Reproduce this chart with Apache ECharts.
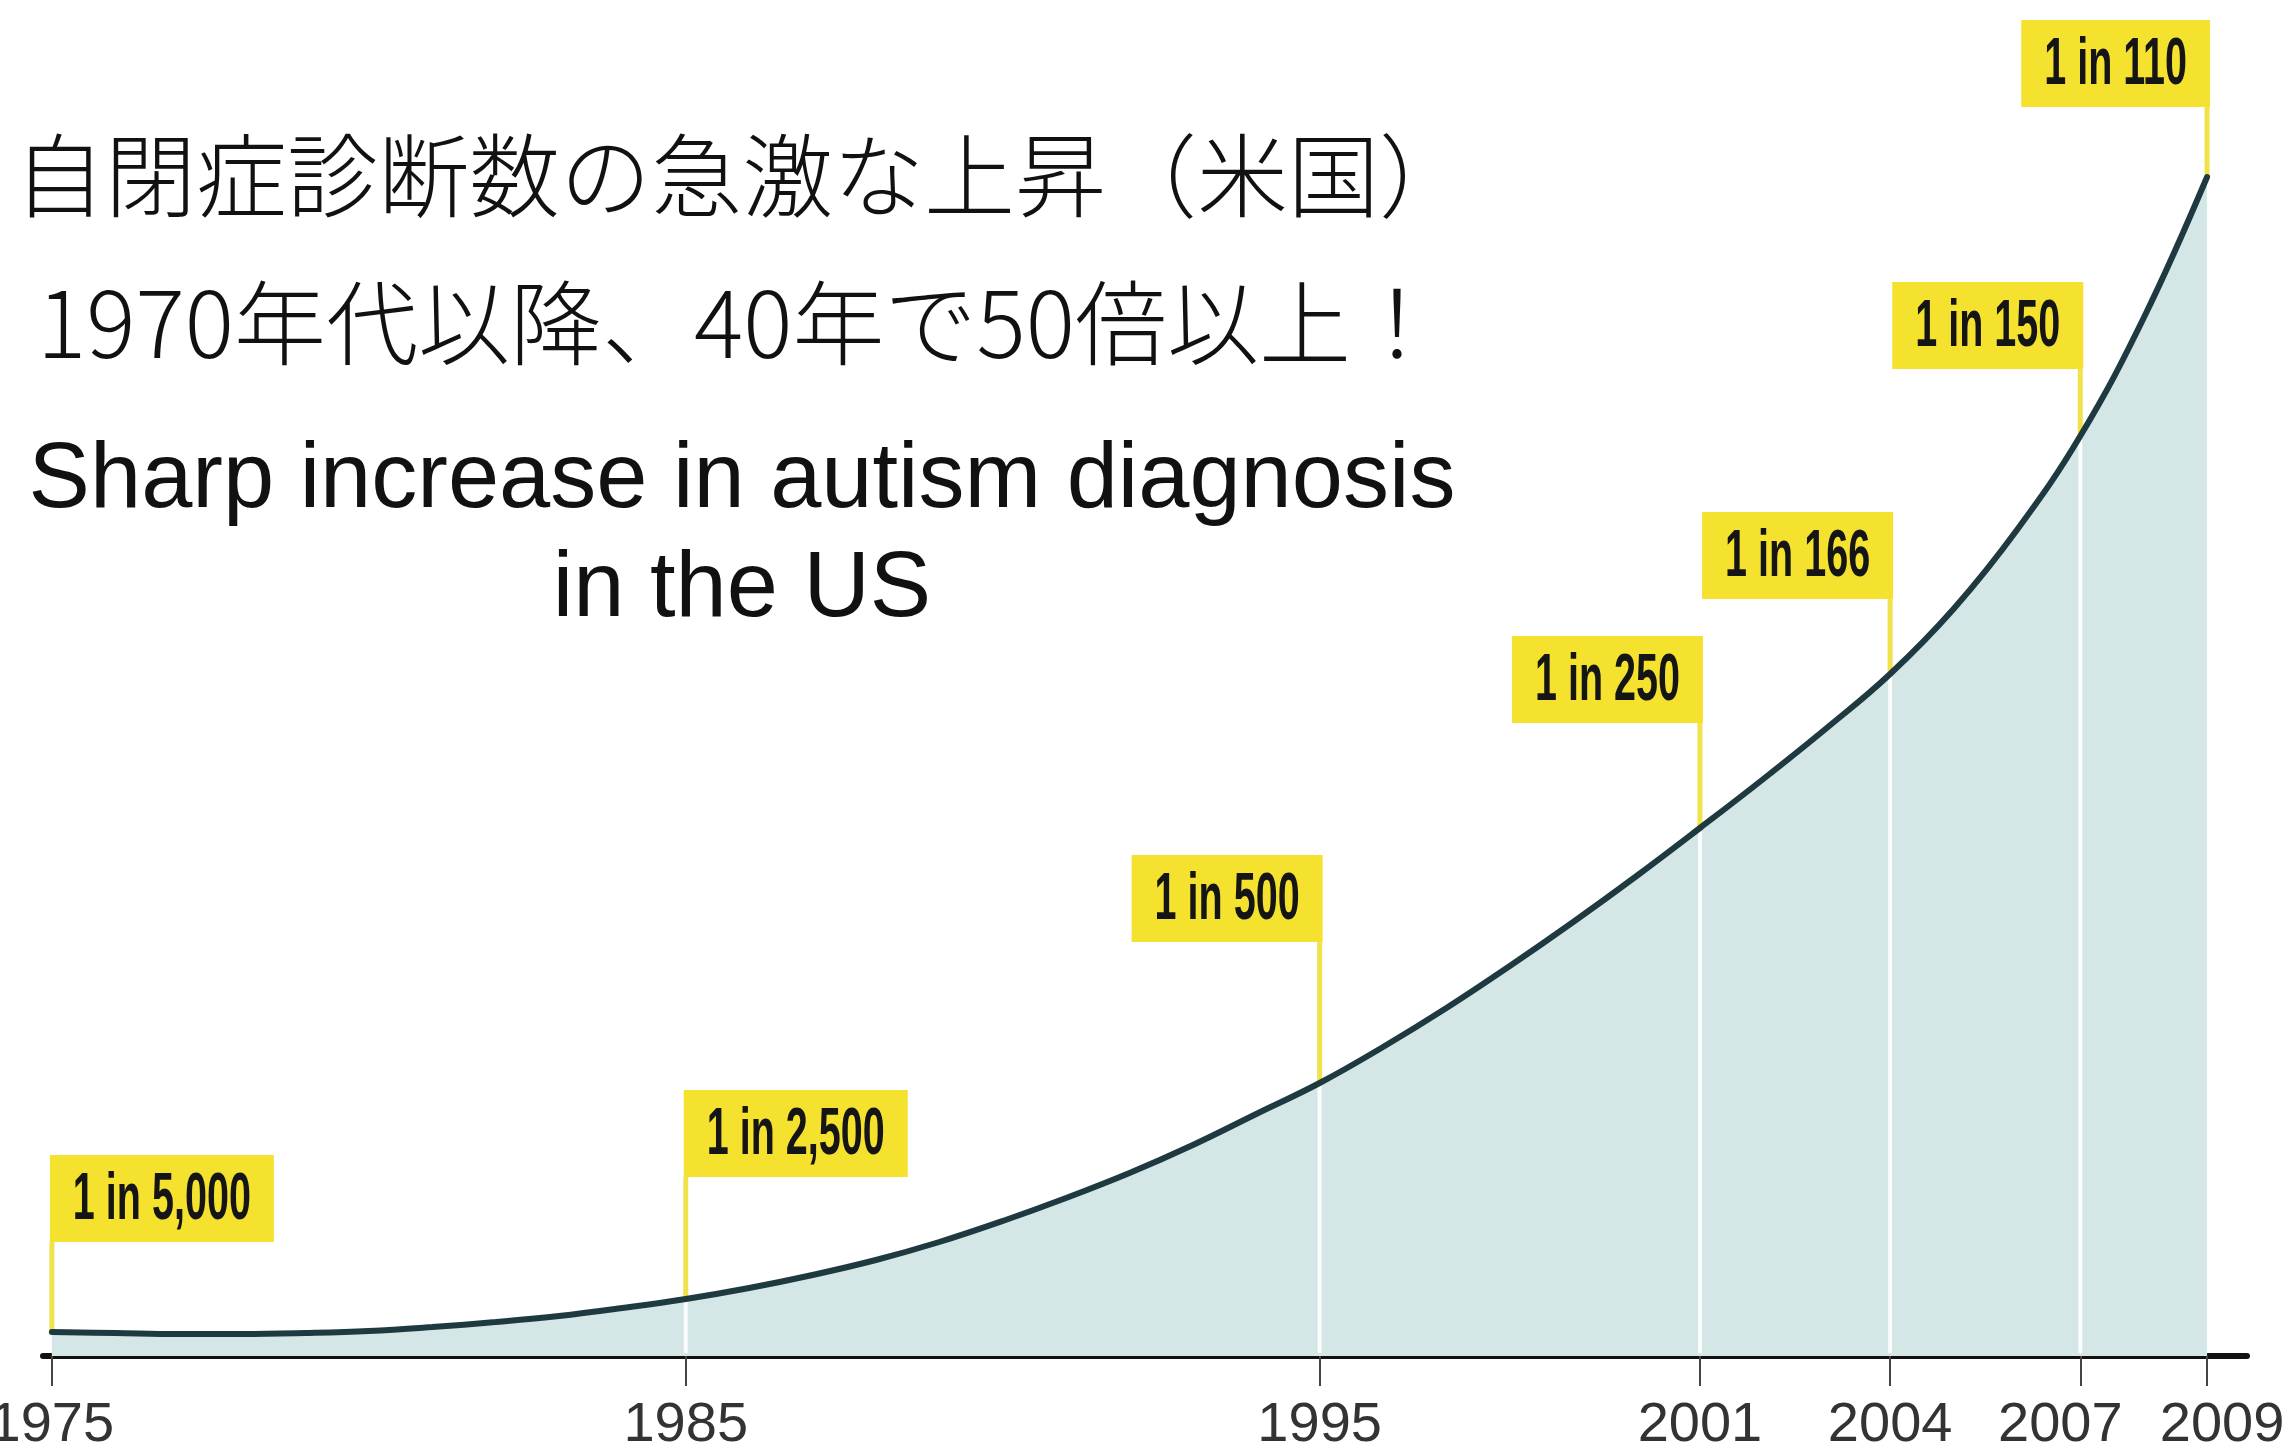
<!DOCTYPE html>
<html>
<head>
<meta charset="utf-8">
<script src="https://cdn.jsdelivr.net/npm/echarts@6/dist/echarts.min.js"></script>
<style>
  html, body { margin: 0; padding: 0; background: #fff; }
  #chart { width: 2285px; height: 1455px; }
</style>
</head>
<body>
<div id="chart"></div>
<script>
// curve (height above the axis, in picture units)
var years = [1975, 1976, 1977, 1978, 1979, 1980, 1981, 1982, 1983, 1984,
             1985, 1986, 1987, 1988, 1989, 1990, 1991, 1992, 1993, 1994,
             1995, 1996, 1997, 1998, 1999, 2000, 2001, 2002, 2003, 2004,
             2005, 2006, 2007, 2008, 2009];
var heights = [24, 23, 22, 22, 23, 25, 29, 34, 40, 48,
               57, 68, 81, 96, 114, 135, 158, 183, 211, 242,
               273, 309, 348, 390, 434, 480, 528, 577, 628, 682,
               747, 826, 920, 1038, 1179];

var calloutYears = [1975, 1985, 1995, 2001, 2004, 2007, 2009];
var calloutTexts = ['1 in 5,000', '1 in 2,500', '1 in 500', '1 in 250', '1 in 166', '1 in 150', '1 in 110'];
var tickYears = [1975, 1985, 1995, 2001, 2004, 2007, 2009];

var titleLines = ['自閉症診断数の急激な上昇（米国）', '1970年代以降、40年で50倍以上！',
                  'Sharp increase in autism diagnosis', 'in the US'];

// callout layout
var calloutLift = [90, 122, 141, 105, 75, 67, 70];
var calloutSide = ['left', 'left', 'right', 'right', 'right', 'right', 'right'];
var LABEL_FONT = 'bold 67px "Liberation Sans", Arial, sans-serif';
var SX = 0.59;
var BOX_H = 87;

var ctx = document.createElement('canvas').getContext('2d');
ctx.font = LABEL_FONT;
var textWidths = calloutTexts.map(function (t) { return ctx.measureText(t).width * SX; });

var curve = years.map(function (y, i) { return [y, heights[i]]; });
var callouts = calloutYears.map(function (y, i) {
  return [y, heights[years.indexOf(y)], i];
});

var chart = echarts.init(document.getElementById('chart'));

function renderCallout(params, api) {
  var i = api.value(2);
  var pt = api.coord([api.value(0), api.value(1)]);
  var base = api.coord([api.value(0), 0]);
  var bw = textWidths[i] + 46;
  var bottom = pt[1] - calloutLift[i];
  var left = calloutSide[i] === 'left' ? pt[0] - 2 : pt[0] + 3 - bw;
  var kids = [];
  if (i > 0 && i < calloutYears.length - 1) {
    kids.push({
      type: 'line',
      shape: { x1: pt[0], y1: pt[1] + 3, x2: pt[0], y2: base[1] - 3 },
      style: { stroke: '#ffffff', lineWidth: 4, opacity: 0.9 }
    });
  }
  kids.push({
    type: 'line',
    shape: { x1: pt[0], y1: bottom, x2: pt[0], y2: pt[1] },
    style: { stroke: '#efe24a', lineWidth: 5 }
  });
  kids.push({
    type: 'rect',
    shape: { x: left, y: bottom - BOX_H, width: bw, height: BOX_H },
    style: { fill: '#f4e22f' }
  });
  kids.push({
    type: 'text',
    x: left + 23,
    y: bottom - BOX_H / 2 + 2,
    scaleX: SX,
    style: {
      text: calloutTexts[i],
      font: LABEL_FONT,
      fill: '#151515',
      align: 'left',
      verticalAlign: 'middle'
    }
  });
  return { type: 'group', children: kids };
}

var option = {
  backgroundColor: '#ffffff',
  animation: false,
  grid: { left: 43, right: 38, top: 0, bottom: 99, containLabel: false, outerBoundsMode: 'none' },
  xAxis: {
    type: 'value',
    min: 1974.86,
    max: 2009.63,
    splitLine: { show: false },
    axisLine: { lineStyle: { color: '#111', width: 6 } },
    axisTick: {
      customValues: tickYears,
      length: 30,
      lineStyle: { color: '#444', width: 2 }
    },
    axisLabel: {
      customValues: tickYears,
      margin: 42,
      fontSize: 56,
      color: '#333',
      fontFamily: '"Liberation Sans", Arial, sans-serif',
      formatter: function (v) {
        if (v === 2007) return '{l|' + v + '}';
        if (v === 2009) return '{r|' + v + '}';
        return String(v);
      },
      rich: {
        l: { fontSize: 56, color: '#333', fontFamily: '"Liberation Sans", Arial, sans-serif', padding: [0, 40, 0, 0] },
        r: { fontSize: 56, color: '#333', fontFamily: '"Liberation Sans", Arial, sans-serif', padding: [0, 0, 0, 30] }
      }
    }
  },
  yAxis: { type: 'value', min: 0, max: 1356, show: false },
  graphic: [
    {
      type: 'text', x: 742, y: 175, z: 10,
      style: { text: titleLines[0], font: '300 91px "Noto Sans CJK JP", sans-serif', fill: '#111', align: 'center', verticalAlign: 'middle' }
    },
    {
      type: 'text', x: 740, y: 323, z: 10,
      style: { text: titleLines[1], font: '300 92px "Noto Sans CJK JP", sans-serif', fill: '#111', align: 'center', verticalAlign: 'middle' }
    },
    {
      type: 'text', x: 742, y: 482, z: 10,
      style: { text: titleLines[2], font: '92px "Liberation Sans", Arial, sans-serif', fill: '#111', align: 'center', verticalAlign: 'middle' }
    },
    {
      type: 'text', x: 742, y: 591, z: 10,
      style: { text: titleLines[3], font: '92px "Liberation Sans", Arial, sans-serif', fill: '#111', align: 'center', verticalAlign: 'middle' }
    }
  ],
  series: [
    {
      // filled area under the curve
      type: 'line',
      data: curve,
      smooth: 0.4,
      showSymbol: false,
      z: 1,
      lineStyle: { width: 0, opacity: 0 },
      areaStyle: { color: '#d4e6e6', opacity: 1, origin: 'start' },
      silent: true
    },
    {
      type: 'custom',
      data: callouts,
      renderItem: renderCallout,
      z: 2,
      silent: true
    },
    {
      // the curve itself
      type: 'line',
      data: curve,
      smooth: 0.4,
      showSymbol: false,
      z: 3,
      lineStyle: { color: '#1e3a40', width: 6, cap: 'round' },
      silent: true
    }
  ]
};

chart.setOption(option);
</script>
</body>
</html>
